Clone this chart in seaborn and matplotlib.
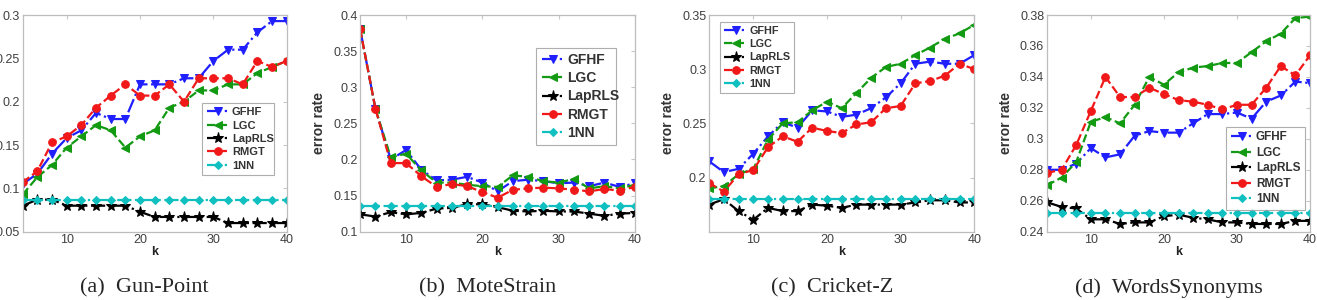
import numpy as np
import pandas as pd
import seaborn as sns
import matplotlib.pyplot as plt

k = list(range(4, 41, 2))

# (a) Gun-Point
gp_gfhf = [0.105, 0.117, 0.140, 0.158, 0.167, 0.187, 0.180, 0.180, 0.220, 0.220, 0.220, 0.227, 0.227, 0.247, 0.260, 0.260, 0.280, 0.293, 0.293]
gp_lgc = [0.093, 0.113, 0.127, 0.147, 0.160, 0.173, 0.167, 0.147, 0.160, 0.167, 0.193, 0.200, 0.213, 0.213, 0.220, 0.220, 0.233, 0.240, 0.247]
gp_lap = [0.080, 0.087, 0.087, 0.080, 0.080, 0.080, 0.080, 0.080, 0.073, 0.067, 0.067, 0.067, 0.067, 0.067, 0.060, 0.060, 0.060, 0.060, 0.060]
gp_rmgt = [0.107, 0.120, 0.153, 0.160, 0.173, 0.193, 0.207, 0.220, 0.207, 0.207, 0.220, 0.200, 0.227, 0.227, 0.227, 0.220, 0.247, 0.240, 0.247]
gp_1nn = [0.087] * 19

# (b) MoteStrain
ms_gfhf = [0.380, 0.270, 0.200, 0.213, 0.186, 0.171, 0.172, 0.176, 0.168, 0.156, 0.170, 0.172, 0.170, 0.167, 0.168, 0.163, 0.168, 0.162, 0.167]
ms_lgc = [0.380, 0.270, 0.203, 0.208, 0.185, 0.168, 0.168, 0.165, 0.163, 0.162, 0.178, 0.176, 0.170, 0.168, 0.173, 0.160, 0.163, 0.160, 0.165]
ms_lap = [0.124, 0.121, 0.127, 0.124, 0.126, 0.132, 0.133, 0.138, 0.138, 0.134, 0.129, 0.128, 0.129, 0.128, 0.128, 0.125, 0.122, 0.125, 0.126]
ms_rmgt = [0.380, 0.270, 0.195, 0.195, 0.177, 0.162, 0.166, 0.163, 0.155, 0.147, 0.158, 0.160, 0.161, 0.160, 0.158, 0.156, 0.159, 0.157, 0.162]
ms_1nn = [0.135] * 19

# (c) Cricket-Z
cz_gfhf = [0.215, 0.205, 0.208, 0.222, 0.238, 0.251, 0.246, 0.262, 0.261, 0.256, 0.258, 0.264, 0.274, 0.287, 0.305, 0.307, 0.305, 0.305, 0.313]
cz_lgc = [0.190, 0.192, 0.203, 0.208, 0.235, 0.250, 0.251, 0.262, 0.270, 0.264, 0.278, 0.292, 0.302, 0.305, 0.313, 0.320, 0.328, 0.333, 0.341]
cz_lap = [0.175, 0.180, 0.169, 0.161, 0.172, 0.169, 0.169, 0.175, 0.174, 0.172, 0.175, 0.175, 0.175, 0.175, 0.177, 0.179, 0.179, 0.177, 0.177]
cz_rmgt = [0.195, 0.187, 0.203, 0.207, 0.228, 0.238, 0.233, 0.246, 0.243, 0.241, 0.249, 0.251, 0.264, 0.266, 0.287, 0.289, 0.294, 0.305, 0.300]
cz_1nn = [0.180] * 19

# (d) WordsSynonyms
ws_gfhf = [0.280, 0.280, 0.284, 0.294, 0.288, 0.290, 0.302, 0.305, 0.304, 0.304, 0.310, 0.316, 0.316, 0.317, 0.313, 0.324, 0.328, 0.337, 0.336]
ws_lgc = [0.270, 0.275, 0.285, 0.311, 0.314, 0.310, 0.322, 0.340, 0.335, 0.343, 0.346, 0.347, 0.349, 0.349, 0.356, 0.363, 0.368, 0.378, 0.379]
ws_lap = [0.259, 0.256, 0.255, 0.248, 0.248, 0.245, 0.246, 0.246, 0.250, 0.251, 0.249, 0.248, 0.246, 0.246, 0.245, 0.245, 0.245, 0.247, 0.247]
ws_rmgt = [0.278, 0.280, 0.296, 0.318, 0.340, 0.327, 0.327, 0.333, 0.329, 0.325, 0.324, 0.322, 0.319, 0.322, 0.322, 0.333, 0.347, 0.341, 0.354]
ws_1nn = [0.252] * 19

methods = ["GFHF", "LGC", "LapRLS", "RMGT", "1NN"]
colors = ["#1f1fff", "#139a13", "#000000", "#f01818", "#10c0c0"]
markers = ["v", "<", "*", "o", "D"]
styles = ["-.", "--", "-.", "--", "-."]

panels = [
    ("(a)  Gun-Point", [gp_gfhf, gp_lgc, gp_lap, gp_rmgt, gp_1nn], (0.05, 0.3), [0.05, 0.1, 0.15, 0.2, 0.25, 0.3], False),
    ("(b)  MoteStrain", [ms_gfhf, ms_lgc, ms_lap, ms_rmgt, ms_1nn], (0.1, 0.4), [0.1, 0.15, 0.2, 0.25, 0.3, 0.35, 0.4], True),
    ("(c)  Cricket-Z", [cz_gfhf, cz_lgc, cz_lap, cz_rmgt, cz_1nn], (0.15, 0.35), [0.2, 0.25, 0.3, 0.35], True),
    ("(d)  WordsSynonyms", [ws_gfhf, ws_lgc, ws_lap, ws_rmgt, ws_1nn], (0.24, 0.38), [0.24, 0.26, 0.28, 0.3, 0.32, 0.34, 0.36, 0.38], True),
]

# axes boxes in pixels: left, right
W, H = 1317, 300
boxes = [(22.7, 286.7), (360.2, 635.0), (709.1, 974.3), (1047.0, 1310.0)]
top_px, bot_px = 15.0, 231.7
# legend boxes (axes fraction): x0, y0, w, h, fontsize
legs = [
    (0.68, 0.25, 0.27, 0.345, 8),
    (0.64, 0.455, 0.29, 0.395, 10),
    (0.04, 0.62, 0.28, 0.35, 7.8),
    (0.68, 0.14, 0.30, 0.345, 8.5),
]

sns.set_style("white")
plt.rcParams['font.family'] = ['Liberation Sans', 'DejaVu Sans']
fig = plt.figure(figsize=(W / 100, H / 100), dpi=100)

for i, (cap, series, ylim, yticks, ylab) in enumerate(panels):
    l, r = boxes[i]
    ax = fig.add_axes([l / W, 1 - bot_px / H, (r - l) / W, (bot_px - top_px) / H])
    for name, vals, c, m, s in zip(methods, series, colors, markers, styles):
        ms = 8 if m == "*" else 5.5
        if m == "D":
            ms = 4.5
        sns.lineplot(x=k, y=vals, ax=ax, color=c, marker=m, linestyle=s, linewidth=1.6,
                     markersize=ms, markeredgecolor=c, label=name)
    ax.set_xlim(4, 40)
    ax.set_ylim(*ylim)
    ax.set_xticks([10, 20, 30, 40])
    ax.set_yticks(yticks)
    ax.set_yticklabels([f"{t:g}" for t in yticks])
    ax.tick_params(direction="in", length=3, pad=2, colors="#c8c8c8", labelcolor="#404040",
                   labelsize=9, top=True, right=True)
    for sp in ax.spines.values():
        sp.set_color("#bdbdbd")
        sp.set_linewidth(0.9)
    ax.set_xlabel("k", fontweight="bold", fontsize=9, labelpad=0, color="#222222")
    if ylab:
        ax.set_ylabel("error rate", fontweight="bold", fontsize=10, color="#333333", labelpad=5)
    else:
        ax.set_ylabel("")
    x0, y0, w, h, fs = legs[i]
    leg = ax.legend(loc="upper left", bbox_to_anchor=(x0, y0, w, h), mode="expand",
                    frameon=True, fancybox=False, borderaxespad=0,
                    handlelength=23 / (fs * 1.389), handletextpad=0.2, labelspacing=0.3,
                    borderpad=0.4, prop={"weight": "bold", "size": fs})
    leg.get_frame().set_edgecolor("#9a9a9a")
    leg.get_frame().set_linewidth(0.8)
    for t in leg.get_texts():
        t.set_color("#333333")
    fig.text(((l + r) / 2 - 10) / W, 1 - 288 / H, cap, ha="center", va="center",
             family="Liberation Serif", fontsize=16)

fig.savefig("out.png", dpi=100)
